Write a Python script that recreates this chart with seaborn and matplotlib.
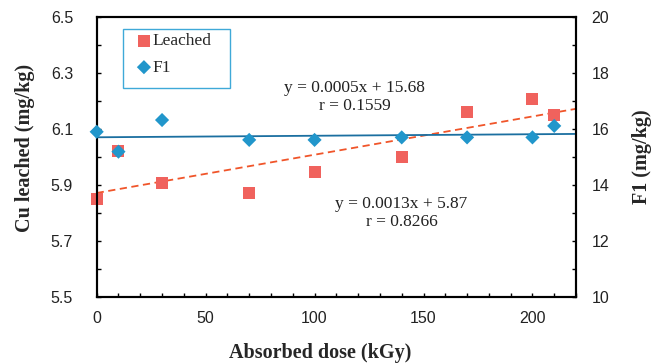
import matplotlib
matplotlib.use("Agg")
import matplotlib.pyplot as plt
from matplotlib.patches import Rectangle
from matplotlib.ticker import MultipleLocator, FixedLocator, FormatStrFormatter
import seaborn as sns
import pandas as pd

# ---- data ----
dose = [0, 10, 30, 70, 100, 140, 170, 200, 210]
leached = [5.85, 6.02, 5.905, 5.87, 5.945, 6.0, 6.16, 6.205, 6.15]
f1 = [15.89, 15.18, 16.31, 15.6, 15.6, 15.69, 15.69, 15.69, 16.1]
eq_f1 = ["y = 0.0005x + 15.68", "r = 0.1559"]
eq_leached = ["y = 0.0013x + 5.87", "r = 0.8266"]
left_ticks = [5.5, 5.7, 5.9, 6.1, 6.3, 6.5]
right_ticks = [10, 12, 14, 16, 18, 20]
x_ticks = [0, 50, 100, 150, 200]

df = pd.DataFrame({"dose": dose, "leached": leached, "f1": f1})

sns.set_style("white")
plt.rcParams["font.family"] = ["Liberation Sans", "DejaVu Sans"]

RED = "#F0625D"
RED_LINE = "#F0552A"
BLUE = "#2196CB"
BLUE_LINE = "#1B6FA0"
SERIF = ["Liberation Serif", "DejaVu Serif"]

fig = plt.figure(figsize=(6.64, 3.63), dpi=100)
ax = fig.add_subplot(111)
fig.subplots_adjust(left=0.1456, right=0.8675, top=0.954, bottom=0.1826)
ax2 = ax.twinx()

ax.set_xlim(0, 220)
ax.set_ylim(5.5, 6.5)
ax2.set_ylim(10, 20)

# trend lines
sns.regplot(data=df, x="dose", y="leached", ax=ax, scatter=False, ci=None,
            truncate=False, line_kws=dict(color=RED_LINE, lw=1.3, ls=(0, (4, 2.5))))
sns.regplot(data=df, x="dose", y="f1", ax=ax2, scatter=False, ci=None,
            truncate=False, line_kws=dict(color=BLUE_LINE, lw=1.3))

sns.scatterplot(data=df, x="dose", y="leached", ax=ax, marker="s", s=74,
                color=RED, edgecolor="none", label="Leached", legend=False,
                zorder=3, clip_on=False)
sns.scatterplot(data=df, x="dose", y="f1", ax=ax2, marker="D", s=52,
                color=BLUE, edgecolor="none", label="F1", legend=False,
                zorder=3, clip_on=False)

ax.set_xlim(0, 220)
ax.set_ylim(5.5, 6.5)
ax2.set_ylim(10, 20)

# ticks
ax.xaxis.set_major_locator(FixedLocator(x_ticks))
ax.xaxis.set_minor_locator(MultipleLocator(10))
ax.yaxis.set_major_locator(FixedLocator(left_ticks))
ax.yaxis.set_minor_locator(MultipleLocator(0.1))
ax.yaxis.set_major_formatter(FormatStrFormatter("%.1f"))
ax2.yaxis.set_major_locator(FixedLocator(right_ticks))
ax2.yaxis.set_minor_locator(MultipleLocator(1))

for a in (ax, ax2):
    for s in a.spines.values():
        s.set_color("black")
        s.set_linewidth(1.5)
ax.tick_params(axis="both", which="both", direction="in", length=3, width=1,
               color="black", labelsize=11.5, labelcolor="#222222")
ax.tick_params(axis="y", which="both", left=True, right=False, pad=17)
ax.tick_params(axis="x", which="both", bottom=True, top=False, pad=10)
ax2.tick_params(axis="y", which="both", direction="in", length=3, width=1,
                color="black", labelsize=11.5, labelcolor="#222222",
                right=True, left=False, pad=11)

# axis labels
ax.set_xlabel("Absorbed dose (kGy)", fontsize=14.5, fontweight="bold", family=SERIF)
ax.set_ylabel("Cu leached (mg/kg)", fontsize=14.5, fontweight="bold", family=SERIF)
ax2.set_ylabel("F1 (mg/kg)", fontsize=14.5, fontweight="bold", family=SERIF,
               rotation=90)
ax.xaxis.label.set_va("center")
ax.yaxis.label.set_va("center")
ax2.yaxis.label.set_va("center")
ax.xaxis.set_label_coords(0.466, -0.2)
ax.yaxis.set_label_coords(-0.1496, 0.531)
ax2.yaxis.set_label_coords(1.137, 0.5)

# equations
ax.text(0.538, 0.744, eq_f1[0], transform=ax.transAxes, ha="center", va="center",
        fontsize=12.5, family=SERIF, color="#222222")
ax.text(0.538, 0.680, eq_f1[1], transform=ax.transAxes, ha="center", va="center",
        fontsize=12.5, family=SERIF, color="#222222")
ax.text(0.636, 0.332, eq_leached[0], transform=ax.transAxes, ha="center", va="center",
        fontsize=12.5, family=SERIF, color="#222222")
ax.text(0.636, 0.268, eq_leached[1], transform=ax.transAxes, ha="center", va="center",
        fontsize=12.5, family=SERIF, color="#222222")

# legend
frame = Rectangle((0.0542, 0.744), 0.224, 0.212, transform=ax2.transAxes,
                  facecolor="white", edgecolor="#3FA9D8", lw=1.0, zorder=4)
ax2.add_patch(frame)
h1, l1 = ax.get_legend_handles_labels()
h2, l2 = ax2.get_legend_handles_labels()
leg = ax2.legend(h1 + h2, l1 + l2, loc="upper left",
                 bbox_to_anchor=((137 - 96.7) / 479.3, (296.7 - 33) / 280),
                 borderaxespad=0, borderpad=0, frameon=False,
                 prop={"family": SERIF, "size": 12.5},
                 handlelength=0.8, handletextpad=0.1, labelspacing=0.6,
                 markerscale=1.0)
leg.set_zorder(5)

fig.savefig("out.png", dpi=100)
